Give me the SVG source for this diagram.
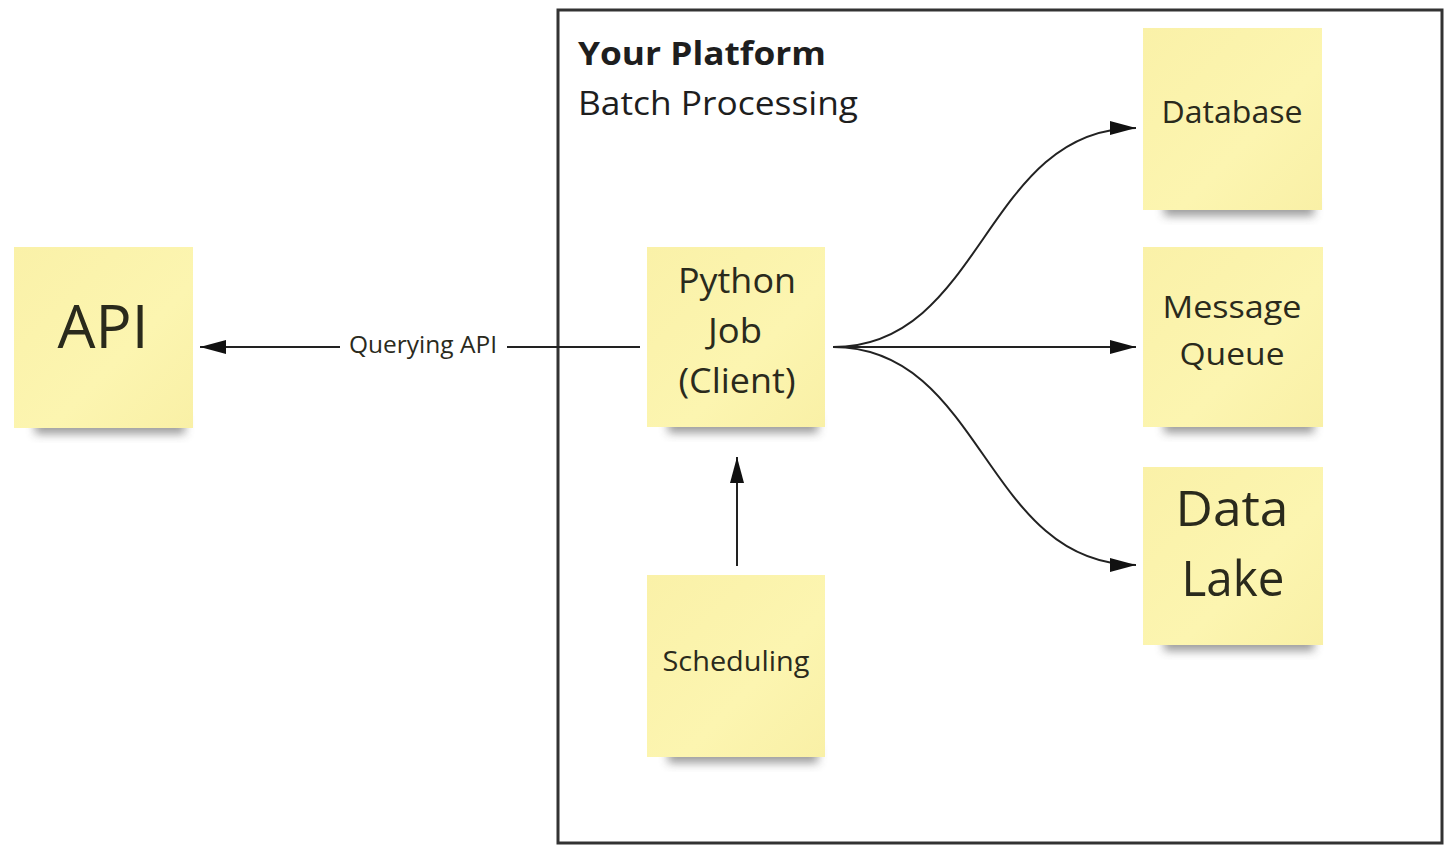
<svg xmlns="http://www.w3.org/2000/svg" width="1449" height="849" viewBox="0 0 1449 849">
  <defs>
    <linearGradient id="paper" x1="0" y1="0" x2="1" y2="1">
      <stop offset="0" stop-color="#faf1a8"/>
      <stop offset="0.6" stop-color="#fcf5b0"/>
      <stop offset="1" stop-color="#f9f0a6"/>
    </linearGradient>
    <filter id="shadow" x="-20%" y="-50%" width="140%" height="200%">
      <feGaussianBlur stdDeviation="5"/>
    </filter>
    <marker id="arrow" viewBox="0 0 26 14" refX="26" refY="7" markerWidth="26" markerHeight="14" markerUnits="userSpaceOnUse" orient="auto">
      <path d="M0,0 L26,7 L0,14 Z" fill="#111"/>
    </marker>
    <style>
      .note { fill: url(#paper); }
      .shadow { fill: #3a3a3a; opacity: 0.5; filter: url(#shadow); }
      .label { font-family: "Open Sans", "Noto Sans", "DejaVu Sans", sans-serif; fill: #2a2a1c; text-anchor: middle; }
      .conn { fill: none; stroke: #222; stroke-width: 2; }
      .frame { fill: none; stroke: #333; stroke-width: 3; }
      .title { font-family: "Open Sans", "Noto Sans", "DejaVu Sans", sans-serif; fill: #1e1e1e; font-size: 33px; }
    </style>
  </defs>

  <rect width="1449" height="849" fill="#ffffff"/>

  <g id="platform-frame">
    <rect class="frame" x="558" y="10" width="884" height="833"/>
    <text class="title" x="578" y="65" font-weight="bold" textLength="248" lengthAdjust="spacingAndGlyphs">Your Platform</text>
    <text class="title" x="578" y="115" textLength="280" lengthAdjust="spacingAndGlyphs">Batch Processing</text>
  </g>

  <g id="connectors">
    <path class="conn" d="M640,347 L507,347"/>
    <path class="conn" d="M340,347 L200,347" marker-end="url(#arrow)"/>
    <text class="label" x="423" y="353" font-size="23" textLength="148" lengthAdjust="spacingAndGlyphs">Querying API</text>
    <path class="conn" d="M833,347 C984,347 984,128 1136,128" marker-end="url(#arrow)"/>
    <path class="conn" d="M833,347 L1136,347" marker-end="url(#arrow)"/>
    <path class="conn" d="M833,347 C984,347 984,565 1136,565" marker-end="url(#arrow)"/>
    <path class="conn" d="M737,566 L737,457" marker-end="url(#arrow)"/>
  </g>

  <g id="node-api">
    <rect class="shadow" x="35" y="416" width="150" height="18"/>
    <rect class="note" x="14" y="247" width="179" height="181"/>
    <text class="label" x="103" y="348" font-size="61" textLength="91" lengthAdjust="spacingAndGlyphs">API</text>
  </g>

  <g id="node-python-job">
    <rect class="shadow" x="668" y="415" width="150" height="18"/>
    <rect class="note" x="647" y="247" width="178" height="180"/>
    <text class="label" x="737" y="293" font-size="35" textLength="118" lengthAdjust="spacingAndGlyphs">Python</text>
    <text class="label" x="735" y="343" font-size="35" textLength="54" lengthAdjust="spacingAndGlyphs">Job</text>
    <text class="label" x="737" y="393" font-size="35" textLength="117" lengthAdjust="spacingAndGlyphs">(Client)</text>
  </g>

  <g id="node-scheduling">
    <rect class="shadow" x="668" y="745" width="150" height="18"/>
    <rect class="note" x="647" y="575" width="178" height="182"/>
    <text class="label" x="736" y="671" font-size="28" textLength="147" lengthAdjust="spacingAndGlyphs">Scheduling</text>
  </g>

  <g id="node-database">
    <rect class="shadow" x="1164" y="198" width="150" height="18"/>
    <rect class="note" x="1143" y="28" width="179" height="182"/>
    <text class="label" x="1232" y="123" font-size="31" textLength="141" lengthAdjust="spacingAndGlyphs">Database</text>
  </g>

  <g id="node-message-queue">
    <rect class="shadow" x="1164" y="415" width="150" height="18"/>
    <rect class="note" x="1143" y="247" width="180" height="180"/>
    <text class="label" x="1232" y="318" font-size="31" textLength="139" lengthAdjust="spacingAndGlyphs">Message</text>
    <text class="label" x="1232" y="365" font-size="31" textLength="105" lengthAdjust="spacingAndGlyphs">Queue</text>
  </g>

  <g id="node-data-lake">
    <rect class="shadow" x="1164" y="633" width="150" height="18"/>
    <rect class="note" x="1143" y="467" width="180" height="178"/>
    <text class="label" x="1232" y="526" font-size="49" textLength="113" lengthAdjust="spacingAndGlyphs">Data</text>
    <text class="label" x="1233" y="596" font-size="49" textLength="103" lengthAdjust="spacingAndGlyphs">Lake</text>
  </g>
</svg>
